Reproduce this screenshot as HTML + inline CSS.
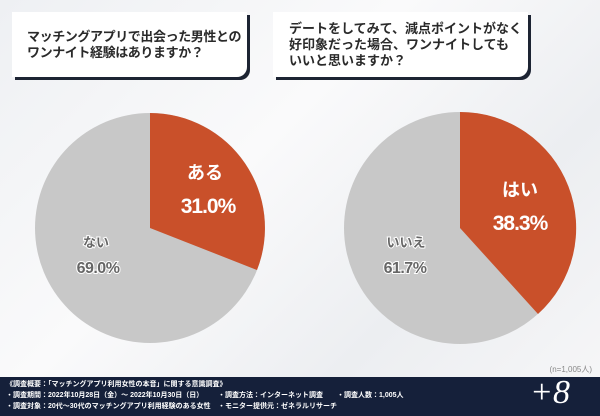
<!DOCTYPE html>
<html><head><meta charset="utf-8"><style>
body{margin:0;width:600px;height:416px;overflow:hidden;font-family:"Liberation Sans","Noto Sans CJK JP",sans-serif;}
.bg{position:absolute;left:0;top:0;width:600px;height:416px;background:linear-gradient(135deg,#eef0f3 0%,#fafafb 40%,#eceef1 70%,#f7f7f8 100%);}
.box{position:absolute;background:#fff;border-radius:0 0 10px 0;box-shadow:3px 3px 0 #1d2433;font-size:13px;line-height:16px;color:#2a2a2a;font-weight:bold;white-space:nowrap;}
.foot{position:absolute;left:0;top:377px;width:600px;height:39px;background:#15203a;color:#fff;font-size:7px;line-height:11px;font-weight:bold;white-space:nowrap;}
</style></head><body>
<div class="bg"></div>
<div class="box" style="left:12px;top:12px;width:235px;height:65px;"><div style="padding:17px 0 0 15px;letter-spacing:-0.4px">マッチングアプリで出会った男性との<br>ワンナイト経験はありますか？</div></div>
<div class="box" style="left:273px;top:12px;width:255px;height:65px;"><div style="padding:9px 0 0 16px">デートをしてみて、減点ポイントがなく<br>好印象だった場合、ワンナイトしても<br>いいと思いますか？</div></div>
<svg style="position:absolute;left:0;top:0" width="600" height="416" font-family="Liberation Sans,Noto Sans CJK JP,sans-serif" font-weight="bold">
<circle cx="150" cy="228" r="115" fill="#c8c8c8"/>
<path d="M150 228 L150 113 A115 115 0 0 1 257 270 Z" fill="#c9502a"/>
<circle cx="460" cy="228" r="116" fill="#c8c8c8"/>
<path d="M460 228 L460 112 A116 116 0 0 1 538 314 Z" fill="#c9502a"/>
<g fill="#fff" font-size="18">
<text x="205" y="179" text-anchor="middle">ある</text>
<text x="208" y="213" text-anchor="middle" font-size="21" letter-spacing="-1">31.0%</text>
<text x="520" y="196" text-anchor="middle">はい</text>
<text x="520" y="230" text-anchor="middle" font-size="21" letter-spacing="-1">38.3%</text>
</g>
<g fill="#666" stroke="#fff" stroke-width="2" paint-order="stroke" font-size="13">
<text x="96" y="247" text-anchor="middle">ない</text>
<text x="98" y="273" text-anchor="middle" font-size="16" letter-spacing="-0.5">69.0%</text>
<text x="406" y="247" text-anchor="middle">いいえ</text>
<text x="405" y="273" text-anchor="middle" font-size="16" letter-spacing="-0.5">61.7%</text>
</g>
<text x="592" y="372" text-anchor="end" font-size="8" fill="#888" font-weight="normal">(n=1,005人)</text>
</svg>
<div class="foot">
<div style="position:absolute;left:6px;top:2px">《調査概要：「マッチングアプリ利用女性の本音」に関する意識調査》</div>
<div style="position:absolute;left:6px;top:13px">・調査期間：2022年10月28日（金）～ 2022年10月30日（日）</div>
<div style="position:absolute;left:6px;top:24px">・調査対象：20代～30代のマッチングアプリ利用経験のある女性</div>
<div style="position:absolute;left:218px;top:13px">・調査方法：インターネット調査</div>
<div style="position:absolute;left:218px;top:24px">・モニター提供元：ゼネラルリサーチ</div>
<div style="position:absolute;left:337px;top:13px">・調査人数：1,005人</div>
<div style="position:absolute;left:530px;top:-4px;font-size:34px;line-height:40px;font-weight:normal;font-family:'Liberation Serif',serif;font-style:italic">+8</div>
</div>
</body></html>
